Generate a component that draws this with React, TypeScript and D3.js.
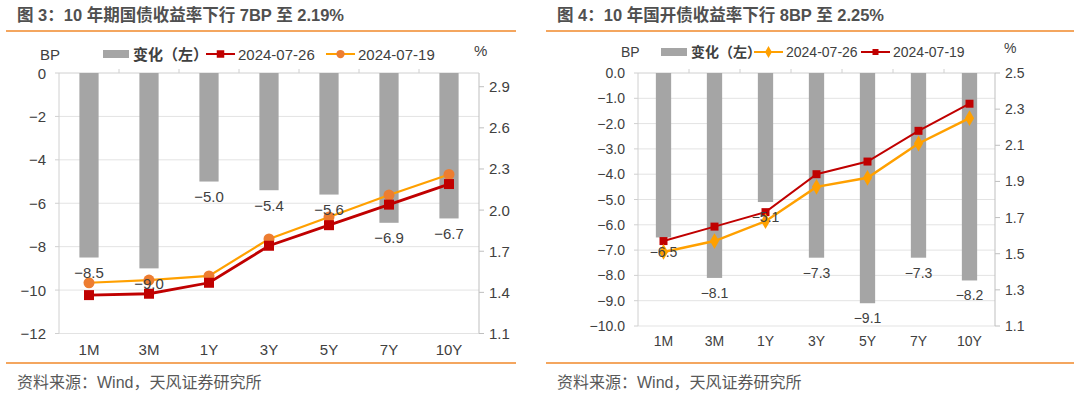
import React, { useRef, useEffect } from "react";
import * as d3 from "d3";

const categories = ["1M", "3M", "1Y", "3Y", "5Y", "7Y", "10Y"];

// 图3 国债
const govChange = [-8.5, -9.0, -5.0, -5.4, -5.6, -6.9, -6.7];
const govYield0726 = [1.38, 1.39, 1.47, 1.74, 1.89, 2.04, 2.19];
const govYield0719 = [1.47, 1.49, 1.52, 1.79, 1.95, 2.11, 2.26];
const govLeftTicks = [0, -2, -4, -6, -8, -10, -12];
const govRightTicks = [1.1, 1.4, 1.7, 2.0, 2.3, 2.6, 2.9];

// 图4 国开债
const cdbChange = [-6.5, -8.1, -5.1, -7.3, -9.1, -7.3, -8.2];
const cdbYield0726 = [1.51, 1.57, 1.68, 1.87, 1.92, 2.11, 2.25];
const cdbYield0719 = [1.57, 1.65, 1.73, 1.94, 2.01, 2.18, 2.33];
const cdbLeftTicks = [0, -1, -2, -3, -4, -5, -6, -7, -8, -9, -10];
const cdbRightTicks = [1.1, 1.3, 1.5, 1.7, 1.9, 2.1, 2.3, 2.5];

const FONT = "'Liberation Sans', Arial, 'Noto Sans CJK SC', sans-serif";
const RED = "#C00000";
const ORANGE = "#FFA000";
const BAR = "#A5A5A5";
const TEXT = "#404040";

const minus = (s: string) => s.replace("-", "\u2212");

function drawPanel(svg: any, o: any) {
  const g = svg.append("g");
  // title + rules
  g.append("text")
    .attr("x", o.x0 + 17).attr("y", 21)
    .attr("font-size", 16.5).attr("font-weight", "bold").attr("fill", "#505050")
    .text(o.title);
  [31, 363].forEach(y =>
    g.append("line")
      .attr("x1", o.x0 + 6).attr("x2", o.x0 + o.ruleW)
      .attr("y1", y).attr("y2", y)
      .attr("stroke", "#F0892A").attr("stroke-width", 1.5));
  g.append("text")
    .attr("x", o.x0 + 17).attr("y", 388)
    .attr("font-size", 16).attr("fill", "#595959")
    .text("资料来源：Wind，天风证券研究所");

  const x = d3.scaleBand().domain(categories)
    .range([o.left, o.right]).paddingInner(o.pad).paddingOuter(o.pad / 2);
  const yL = d3.scaleLinear().domain(o.leftDomain).range([o.top, o.bottom]);
  const yR = d3.scaleLinear().domain(o.rightDomain).range([o.bottom, o.top]);
  const cx = (c: string) => (x(c) as number) + x.bandwidth() / 2;

  // grid
  g.selectAll(".grid").data(o.leftTicks.slice(1)).enter().append("line")
    .attr("x1", o.left).attr("x2", o.right)
    .attr("y1", (d: number) => yL(d)).attr("y2", (d: number) => yL(d))
    .attr("stroke", "#E3E3E3");
  // axes lines
  g.append("line").attr("x1", o.left).attr("x2", o.left)
    .attr("y1", o.top).attr("y2", o.bottom).attr("stroke", "#D0D0D0");
  g.append("line").attr("x1", o.right).attr("x2", o.right)
    .attr("y1", o.top).attr("y2", o.bottom).attr("stroke", "#BFBFBF");
  g.append("line").attr("x1", o.left).attr("x2", o.right)
    .attr("y1", o.top).attr("y2", o.top).attr("stroke", "#D0D0D0");
  const step = x.step();
  d3.range(1, categories.length).forEach(i =>
    g.append("line")
      .attr("x1", o.left + i * step).attr("x2", o.left + i * step)
      .attr("y1", o.top).attr("y2", o.top - 4).attr("stroke", "#D0D0D0"));

  // left ticks
  o.leftTicks.forEach((t: number) => {
    g.append("line").attr("x1", o.left - 4).attr("x2", o.left)
      .attr("y1", yL(t)).attr("y2", yL(t)).attr("stroke", "#D0D0D0");
    g.append("text").attr("x", o.left - 13).attr("y", yL(t))
      .attr("text-anchor", "end").attr("dominant-baseline", "central")
      .attr("font-size", o.fs).attr("fill", TEXT)
      .text(minus(d3.format(o.leftFmt)(t)));
  });
  // right ticks
  o.rightTicks.forEach((t: number) => {
    g.append("line").attr("x1", o.right).attr("x2", o.right + 5)
      .attr("y1", yR(t)).attr("y2", yR(t)).attr("stroke", "#BFBFBF");
    g.append("text").attr("x", o.right + 10).attr("y", yR(t))
      .attr("dominant-baseline", "central")
      .attr("font-size", o.fs).attr("fill", TEXT)
      .text(d3.format(".1f")(t));
  });
  // category labels
  categories.forEach(c =>
    g.append("text").attr("x", cx(c)).attr("y", o.catY)
      .attr("text-anchor", "middle").attr("dominant-baseline", "central")
      .attr("font-size", o.fs).attr("fill", TEXT).text(c));

  // bars
  g.selectAll(".bar").data(o.change).enter().append("rect")
    .attr("x", (_: number, i: number) => x(categories[i]))
    .attr("y", o.top)
    .attr("width", x.bandwidth())
    .attr("height", (d: number) => yL(d) - o.top)
    .attr("fill", BAR);

  // lines
  o.series.forEach((s: any) => {
    const line = d3.line<number>()
      .x((_, i) => cx(categories[i])).y(d => yR(d));
    g.append("path").attr("d", line(s.values)).attr("fill", "none")
      .attr("stroke", s.color).attr("stroke-width", s.width);
    s.values.forEach((v: number, i: number) =>
      drawMarker(g, s.marker, cx(categories[i]), yR(v), s.markerColor, s.size));
  });

  // bar labels
  o.change.forEach((d: number, i: number) =>
    g.append("text").attr("x", cx(categories[i])).attr("y", yL(d) + o.labelDy)
      .attr("text-anchor", "middle").attr("dominant-baseline", "central")
      .attr("font-size", o.fs).attr("fill", TEXT)
      .text(minus(d3.format(".1f")(d))));

  // legend
  const ly = o.legendY;
  g.append("text").attr("x", o.bpX).attr("y", ly).attr("dominant-baseline", "central")
    .attr("font-size", o.fs).attr("fill", TEXT).text("BP");
  g.append("text").attr("x", o.pctX).attr("y", ly - 4).attr("dominant-baseline", "central")
    .attr("font-size", o.fs).attr("fill", TEXT).text("%");
  g.append("rect").attr("x", o.leg[0]).attr("y", ly - 4).attr("width", 26).attr("height", 8)
    .attr("fill", BAR);
  g.append("text").attr("x", o.leg[0] + 30).attr("y", ly).attr("dominant-baseline", "central")
    .attr("font-size", o.fs).attr("font-weight", "bold").attr("fill", TEXT).text("变化（左）");
  o.series.slice().reverse().forEach((s: any, k: number) => {
    const lx = o.leg[k + 1];
    g.append("line").attr("x1", lx).attr("x2", lx + 29).attr("y1", ly).attr("y2", ly)
      .attr("stroke", s.color).attr("stroke-width", 2);
    drawMarker(g, s.marker, lx + 14.5, ly, s.markerColor, s.size * 0.75);
    g.append("text").attr("x", lx + 32).attr("y", ly).attr("dominant-baseline", "central")
      .attr("font-size", o.fs).attr("fill", TEXT).text(s.name);
  });
}

function drawMarker(g: any, kind: string, x: number, y: number, color: string, size: number) {
  const type = kind === "square" ? d3.symbolSquare : kind === "diamond" ? d3.symbolDiamond : d3.symbolCircle;
  const area = kind === "diamond" ? size * size * 0.6 : kind === "circle" ? Math.PI * (size / 2) ** 2 : size * size;
  g.append("path").attr("d", d3.symbol().type(type).size(area)())
    .attr("transform", `translate(${x},${y})`).attr("fill", color);
}

export default function App() {
  const ref = useRef<SVGSVGElement>(null);
  useEffect(() => {
    const svg = d3.select(ref.current);
    svg.selectAll("*").remove();
    svg.append("rect").attr("width", 1080).attr("height", 393).attr("fill", "#fff");
    drawPanel(svg, {
      x0: 0, ruleW: 516,
      title: "图 3：10 年期国债收益率下行 7BP 至 2.19%",
      left: 59, right: 479, top: 73, bottom: 333.5, pad: 0.68,
      leftDomain: [0, -12], rightDomain: [1.1, 3.0],
      leftTicks: govLeftTicks, rightTicks: govRightTicks, leftFmt: "d",
      change: govChange, fs: 15, catY: 349, labelDy: 15,
      legendY: 54, bpX: 40, pctX: 474, leg: [103, 206, 326],
      series: [
        { name: "2024-07-19", values: govYield0719, color: ORANGE, markerColor: "#ED7D31", marker: "circle", size: 11, width: 2.2 },
        { name: "2024-07-26", values: govYield0726, color: RED, markerColor: RED, marker: "square", size: 10, width: 2.8 },
      ],
    });
    drawPanel(svg, {
      x0: 540, ruleW: 534,
      title: "图 4：10 年国开债收益率下行 8BP 至 2.25%",
      left: 638, right: 995, top: 73, bottom: 326, pad: 0.7,
      leftDomain: [0, -10], rightDomain: [1.1, 2.5],
      leftTicks: cdbLeftTicks, rightTicks: cdbRightTicks, leftFmt: ".1f",
      change: cdbChange, fs: 14, catY: 341, labelDy: 15,
      legendY: 52, bpX: 621, pctX: 1004, leg: [661, 754, 861],
      series: [
        { name: "2024-07-19", values: cdbYield0719, color: RED, markerColor: RED, marker: "square", size: 8, width: 2 },
        { name: "2024-07-26", values: cdbYield0726, color: ORANGE, markerColor: ORANGE, marker: "diamond", size: 11, width: 2.5 },
      ],
    });
  }, []);
  return (
    <div style={{ position: "absolute", left: 0, top: 0 }}>
      <svg ref={ref} width={1080} height={393} style={{ display: "block", fontFamily: FONT }} />
    </div>
  );
}
